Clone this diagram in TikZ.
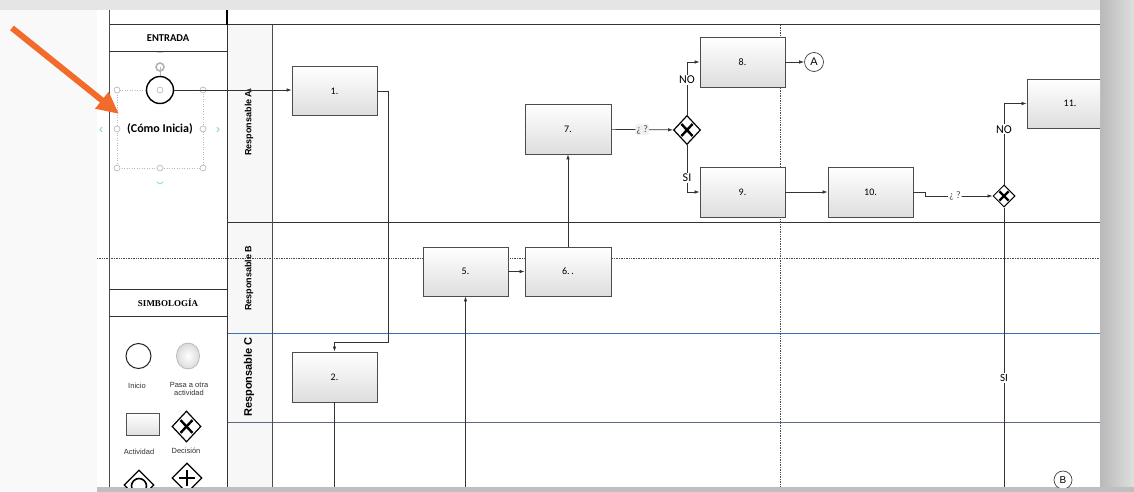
\documentclass[tikz,border=0pt]{standalone}
\usepackage{fontspec}
\setmainfont{Carlito}
\newfontfamily\arialf{Liberation Sans}
\newfontfamily\seriff{Liberation Serif}
\usetikzlibrary{arrows.meta,shapes.geometric,calc}
\definecolor{orangearr}{HTML}{F26B2A}
\definecolor{laneblue}{HTML}{3F72B5}
\definecolor{lanegray}{HTML}{5E6C80}
\definecolor{handleteal}{HTML}{7FD6CC}
\tikzset{
 task/.style={rectangle, draw=gray!60!black, line width=0.8pt, top color=white, bottom color=gray!26,
   minimum width=85pt, minimum height=49pt, inner sep=0pt, font=\fontsize{10}{11}\selectfont},
 gate/.style={diamond, draw=black, line width=1.2pt, fill=white, minimum width=27pt, minimum height=29pt, inner sep=0pt,
   path picture={
     \draw[line width=2.4pt] ($(path picture bounding box.center)!0.42!(path picture bounding box.north west)$) -- ($(path picture bounding box.center)!0.42!(path picture bounding box.south east)$);
     \draw[line width=2.4pt] ($(path picture bounding box.center)!0.42!(path picture bounding box.north east)$) -- ($(path picture bounding box.center)!0.42!(path picture bounding box.south west)$);}},
 conn/.style={draw=black!80, line width=0.7pt},
 arr/.style={conn, -{Latex[length=5pt,width=3.5pt]}},
 lab/.style={fill=white, inner sep=1pt, font=\fontsize{12}{13}\selectfont},
 qlab/.style={fill=gray!12, rounded corners=2pt, inner sep=1pt, text=gray!55!black, font=\fontsize{10}{11}\selectfont},
 lane/.style={draw=black!80, line width=1pt},
 conncirc/.style={circle, draw=black!75, line width=0.7pt, fill=white, inner sep=0pt, font=\arialf\fontsize{11}{11}\selectfont},
 handle/.style={circle, draw=gray!60, line width=0.6pt, fill=white, minimum size=6pt, inner sep=0pt},
 symlab/.style={font=\arialf\fontsize{7.5}{8.5}\selectfont, align=center, text=black!80},
 lanelab/.style={rotate=90, font=\arialf\bfseries\fontsize{9}{10}\selectfont},
}
\begin{document}
\begin{tikzpicture}[x=1pt,y=-1pt]
\useasboundingbox (0,0) rectangle (1134,492);
% backdrop
\fill[gray!5] (0,0) rectangle (1134,492);
\fill[gray!20] (0,0) rectangle (1134,10);
\shade[left color=gray!55, right color=gray!25] (1100,0) rectangle (1134,492);
\fill[white] (97,10) rectangle (1100,487);
\fill[gray!50] (97,487) rectangle (1134,492);

\begin{scope}
\clip (97,10) rectangle (1100,487);
% lane label column
\fill[gray!6] (227,25) rectangle (272,487);
% grid lines
\draw[lane] (109,25) -- (1100,25);
\draw[lane] (227,222) -- (1100,222);
\draw[draw=laneblue, line width=1pt] (227,333) -- (1100,333);
\draw[draw=lanegray, line width=1pt] (227,422) -- (1100,422);
\draw[black!70, line width=0.7pt, densely dotted] (97,258) -- (1100,258);
\draw[black!70, line width=0.7pt, densely dotted] (780,25) -- (780,487);
\draw[black!70, line width=0.8pt] (109,10) -- (109,487);
\draw[black!80, line width=0.8pt] (227,25) -- (227,487);
\draw[black, line width=1.4pt] (227,10) -- (227,25);
\draw[black!70, line width=0.8pt] (272,25) -- (272,487);
\draw[black!80, line width=0.8pt] (109,51) -- (227,51);
\draw[black!80, line width=0.8pt] (109,289) -- (227,289);
\draw[black!80, line width=0.8pt] (109,316) -- (227,316);

% headers
\node[font=\bfseries\fontsize{10.5}{11}\selectfont] (hentrada) at (168,38) {ENTRADA};
\node[font=\seriff\bfseries\fontsize{9}{10}\selectfont] (hsimb) at (168,302.5) {SIMBOLOGÍA};

% lane labels
\node[lanelab] (lA) at (249,123) {Responsable A};
\node[lanelab] (lB) at (249,278) {Responsable B};
\node[lanelab, font=\arialf\bfseries\fontsize{11}{12}\selectfont] (lC) at (249,377) {Responsable C};

% selection box around start
\draw[gray!55, line width=0.5pt, dotted] (117,90) rectangle (203,168);
\draw[gray!55, line width=0.8pt] (160,67) -- (160,77);
\node[circle, draw=gray!60, line width=1.6pt, minimum size=8pt, inner sep=0pt] (rot) at (160,67) {};
\draw[gray!35, line width=0.8pt] (157,52) -- (163,52);
\node[circle, draw=black, line width=1.4pt, fill=white, minimum size=27pt, inner sep=0pt] (start) at (160,90) {};
\node[font=\bfseries\fontsize{12}{13}\selectfont] (como) at (160,129) {(Cómo Inicia)};
\foreach \hx/\hy [count=\i] in {117/90,160/90,203/90,117/129,203/129,117/168,160/168,203/168}
  \node[handle] (h\i) at (\hx,\hy) {};
\draw[handleteal, line width=0.8pt] (102,127) -- (100,129.5) -- (102,132);
\draw[handleteal, line width=0.8pt] (217,127) -- (219,129.5) -- (217,132);
\draw[handleteal, line width=0.8pt] (157,182) -- (160,184) -- (163,182);

% tasks
\node[task] (n1) at (334.5,91) {1.};
\node[task, minimum width=86pt, minimum height=50pt] (n7) at (568,129) {7.};
\node[task, minimum height=50pt] (n8) at (742.5,62) {8.};
\node[task, minimum height=50pt] (n9) at (742.5,192) {9.};
\node[task, minimum height=50pt] (n10) at (870.5,192) {10.};
\node[task, minimum width=86pt] (n11) at (1070,103.5) {};
\node[font=\fontsize{10}{11}\selectfont] (t11) at (1070,103.5) {11.};
\node[task] (n5) at (465.5,271.5) {5.};
\node[task, minimum width=86pt] (n6) at (568,271.5) {6.\,.};
\node[task, minimum height=50pt] (n2) at (334.5,377) {2.};

% gateways
\node[gate] (g1) at (687,130) {};
\node[gate, minimum width=22pt, minimum height=22pt, line width=1pt] (g2) at (1004,196) {};

% connectors circles
\node[conncirc, minimum size=19pt] (cA) at (814,62) {A};
\node[conncirc, minimum size=18pt, font=\arialf\fontsize{10}{10}\selectfont] (cB) at (1063,480) {B};

% coordinates
\coordinate (la) at (246,90);
\coordinate (k1) at (388,342);
\coordinate (b2) at (334.5,487);
\coordinate (b5) at (465.5,487);
\coordinate (b11) at (1004,487);

% connectors
\draw[arr] (start.east) -- (n1.west |- start.east);
\draw[conn, {Latex[length=5pt,width=3.5pt]}-] (la) -- ++(10,0);
\draw[arr] (n1.east) -| (k1) -| (n2.north);
\draw[conn] (n2.south) -- (b2);
\draw[arr] (b5) -- (n5.south);
\draw[arr] (n5) -- (n6);
\draw[arr] (n6) -- (n7);
\draw[arr] (n7) -- node[qlab]{¿ ?} (g1);
\draw[arr] (g1.north) |- node[lab, pos=0.33]{NO} (n8.west);
\draw[arr] (g1.south) |- node[lab, pos=0.35]{SI} (n9.west);
\draw[arr] (n8) -- (cA);
\draw[arr] (n9) -- (n10);
\draw[arr] (n10.east) -- ++(12,0) |- node[qlab, fill=white, pos=0.72]{¿ ?} (g2.west);
\draw[arr] (g2.north) |- node[lab, pos=0.34]{NO} (n11.west);
\draw[conn] (g2.south) -- node[lab, pos=0.61, font=\fontsize{11}{12}\selectfont]{SI} (b11);

% symbology
\node[circle, draw=black!85, line width=1pt, minimum size=25pt, inner sep=0pt] (sInicio) at (138.5,356) {};
\node[symlab] (tInicio) at (137,386) {Inicio};
\node[ellipse, draw=gray!55, line width=0.8pt, inner color=white, outer color=gray!28, minimum width=23pt, minimum height=26pt, inner sep=0pt] (sPasa) at (188,356) {};
\node[symlab] (tPasa) at (189,389) {Pasa a otra\\[-1pt]actividad};
\node[rectangle, draw=gray!65!black, line width=0.7pt, top color=white, bottom color=gray!24, minimum width=33pt, minimum height=22pt, inner sep=0pt] (sAct) at (142.5,424) {};
\node[symlab] (tAct) at (139,452) {Actividad};
\node[gate, minimum width=29pt, minimum height=31pt] (sDec) at (186.5,426.5) {};
\node[symlab] (tDec) at (186,451) {Decisión};
\node[diamond, draw=black, line width=1.2pt, fill=white, minimum width=30pt, minimum height=30pt, inner sep=0pt] (sEv) at (139,485) {};
\draw[black, line width=1.6pt] (139,486) circle (7.5);
\node[diamond, draw=black, line width=1.2pt, fill=white, minimum width=30pt, minimum height=30pt, inner sep=0pt] (sPar) at (187,478) {};
\draw[black, line width=2.6pt] (187,470) -- (187,486) (179,478) -- (195,478);
\end{scope}

% orange pointer arrow
\coordinate (oa1) at (12,28);
\coordinate (oa2) at (119,114);
\draw[orangearr, line width=6pt, -{Triangle[length=22pt,width=20pt]}] (oa1) -- (oa2);
\end{tikzpicture}
\end{document}
